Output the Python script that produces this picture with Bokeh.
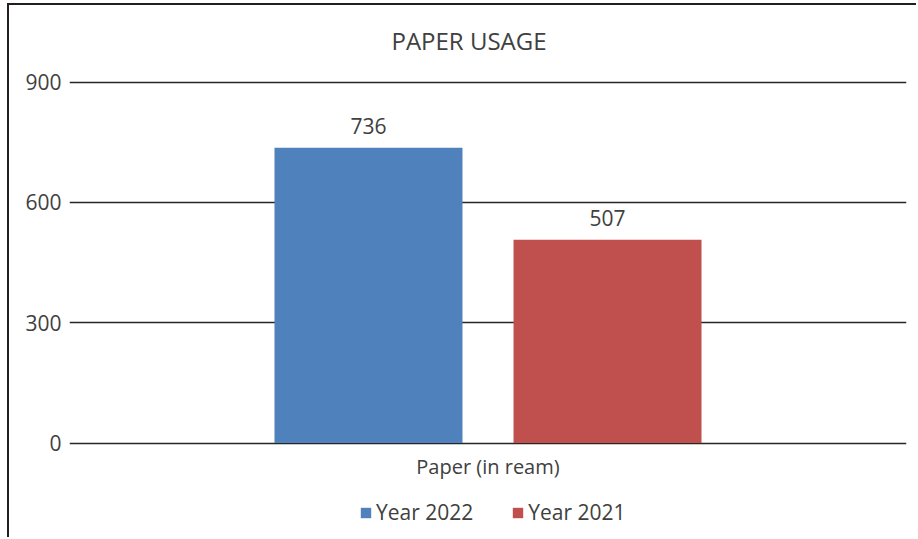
from bokeh.plotting import figure
from bokeh.models import (ColumnDataSource, Range1d, FactorRange, FixedTicker, LabelSet, Label,
                          Legend, LegendItem)
from bokeh.core.properties import value
from bokeh.transform import dodge
from bokeh.embed import file_html
from bokeh.resources import INLINE

title = "PAPER USAGE"
categories = ["Paper (in ream)"]
series_names = ["Year 2022", "Year 2021"]
values_2022 = [736]
values_2021 = [507]
y_ticks = [0, 300, 600, 900]

colors = ["#4f81bd", "#c0504d"]
FONT = "Open Sans"
TXT = "#404040"

src22 = ColumnDataSource(dict(cat=categories, val=values_2022, lab=[str(v) for v in values_2022]))
src21 = ColumnDataSource(dict(cat=categories, val=values_2021, lab=[str(v) for v in values_2021]))
src_cat = ColumnDataSource(dict(cat=categories, lab=categories))

# the frame spans the whole canvas height; the value axis 0..900 sits inside it
p = figure(width=909, height=534, x_range=FactorRange(*categories, range_padding=0),
           y_range=Range1d(-240.6, 1091.0), output_backend="svg", toolbar_location=None,
           min_border_left=60, min_border_right=12, min_border_top=0, min_border_bottom=0)
p.title = None
p.styles = {"border-top": "2px solid #231f20", "border-left": "2px solid #231f20",
            "margin-left": "7px", "margin-top": "3px"}
p.outline_line_color = None

# chart title, placed in the space above the 900 gridline
p.add_layout(Label(x=0.4773, y=1003.7, text=title, text_align="center", text_baseline="middle",
                   text_font=FONT, text_font_size="24px", text_color=TXT))

w = 0.2246
off = 0.1428
r1 = p.vbar(x=dodge("cat", -off, range=p.x_range), top="val", width=w, source=src22,
            fill_color=colors[0], line_color=None)
r2 = p.vbar(x=dodge("cat", off, range=p.x_range), top="val", width=w, source=src21,
            fill_color=colors[1], line_color=None)

for src, o in ((src22, -off), (src21, off)):
    p.add_layout(LabelSet(x=dodge("cat", o, range=p.x_range), y="val", text="lab", source=src,
                          text_align="center", text_baseline="bottom", y_offset=14,
                          text_font=value(FONT), text_font_size="21px", text_color=TXT))

# category label under the zero line
p.add_layout(LabelSet(x="cat", y=0, text="lab", source=src_cat, text_align="center",
                      text_baseline="middle", y_offset=-23,
                      text_font=value(FONT), text_font_size="20px", text_color=TXT))

p.ygrid.ticker = FixedTicker(ticks=y_ticks)
p.ygrid.grid_line_color = "#262626"
p.ygrid.grid_line_width = 1.6
p.xgrid.grid_line_color = None

p.yaxis.ticker = FixedTicker(ticks=y_ticks)
p.yaxis.axis_line_color = None
p.yaxis.major_tick_line_color = None
p.yaxis.major_tick_out = 0
p.yaxis.major_tick_in = 0
p.yaxis.minor_tick_line_color = None
p.yaxis.major_label_standoff = 8
p.yaxis.major_label_text_font = FONT
p.yaxis.major_label_text_font_size = "21px"
p.yaxis.major_label_text_color = TXT

p.xaxis.visible = False

legend = Legend(items=[LegendItem(label=series_names[0], renderers=[r1]),
                       LegendItem(label=series_names[1], renderers=[r2])],
                orientation="horizontal", location=(290, 13),
                glyph_width=13, glyph_height=13, label_standoff=4, spacing=38,
                padding=0, margin=0, border_line_color=None, background_fill_alpha=0,
                label_text_font=FONT, label_text_font_size="21px", label_text_color=TXT)
p.add_layout(legend, "center")

open("out.html", "w").write(file_html(p, INLINE))
